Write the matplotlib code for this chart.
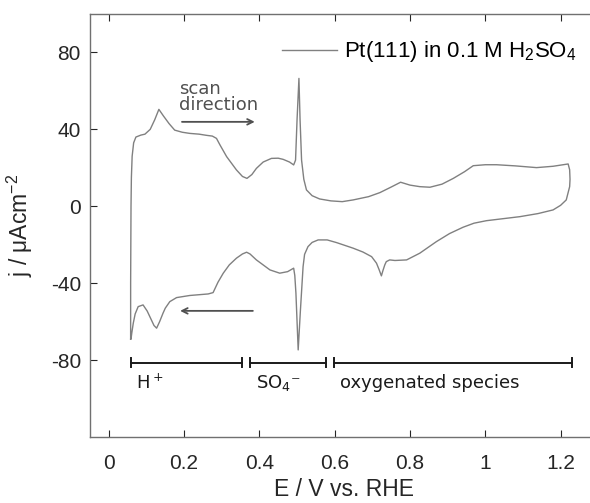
import matplotlib
matplotlib.use('Agg')
import matplotlib.pyplot as plt

plt.rcParams['font.family'] = ['Liberation Sans', 'DejaVu Sans']
plt.rcParams['mathtext.fontset'] = 'custom'
plt.rcParams['mathtext.rm'] = 'Liberation Sans'
plt.rcParams['mathtext.it'] = 'Liberation Sans'
plt.rcParams['axes.unicode_minus'] = False

# anodic sweep (E in V vs RHE, j in uA/cm2)
E_up = [0.058, 0.058, 0.059, 0.060, 0.062, 0.066, 0.072, 0.085, 0.096, 0.110,
        0.122, 0.133, 0.145, 0.160, 0.175, 0.195, 0.215, 0.240, 0.259, 0.275,
        0.286, 0.295, 0.313, 0.339, 0.355, 0.367, 0.380, 0.392, 0.410, 0.432,
        0.450, 0.463, 0.480, 0.491, 0.496, 0.500, 0.505, 0.508, 0.512, 0.518,
        0.525, 0.540, 0.560, 0.590, 0.620, 0.649, 0.690, 0.720, 0.750, 0.775,
        0.800, 0.826, 0.853, 0.885, 0.915, 0.945, 0.968, 1.000, 1.030, 1.080,
        1.136, 1.180, 1.220, 1.224]
j_up = [-69, -40, 0, 15, 26, 33, 36, 37, 37.5, 40,
        45, 50.4, 47, 43, 39.6, 38.5, 37.9, 37.5, 36.9, 36.5,
        35.3, 32, 25.8, 18.9, 15.5, 14.5, 16.5, 19.7, 23, 24.9,
        25, 24.4, 23, 21.5, 24, 45, 66.5, 45, 24, 14,
        8.5, 5.5, 3.8, 2.8, 2.4, 3.3, 5, 7.1, 10, 12.5,
        11, 10.2, 9.9, 11.5, 14.5, 18, 21.1, 21.6, 21.6, 21,
        20.1, 20.8, 22.0, 19]

# cathodic sweep
E_down = [1.225, 1.224, 1.215, 1.200, 1.180, 1.140, 1.092, 1.050, 1.003, 0.970,
          0.941, 0.905, 0.870, 0.826, 0.791, 0.760, 0.746, 0.737, 0.733, 0.728,
          0.724, 0.718, 0.711, 0.698, 0.675, 0.649, 0.605, 0.580, 0.556, 0.540,
          0.529, 0.520, 0.516, 0.509, 0.503, 0.497, 0.494, 0.491, 0.475, 0.454,
          0.428, 0.410, 0.392, 0.375, 0.366, 0.355, 0.339, 0.320, 0.304, 0.290,
          0.277, 0.264, 0.240, 0.215, 0.180, 0.162, 0.150, 0.144, 0.135, 0.127,
          0.120, 0.113, 0.102, 0.091, 0.078, 0.070, 0.065, 0.061, 0.059, 0.058]
j_down = [14, 10.2, 3.3, 0.5, -1.9, -3.8, -5.4, -6.4, -7.5, -8.8,
          -10.9, -14.2, -18.4, -24.4, -27.9, -28.2, -27.9, -28.8, -30.5, -33.5,
          -36.2, -33, -29.6, -26.2, -23.8, -21.8, -18.9, -17.5, -17.5, -18.8,
          -21, -25, -31.4, -53.9, -74.7, -45.2, -36, -32.2, -34, -34.8,
          -33.1, -30.5, -27.9, -24.8, -23.9, -24.8, -27, -30.5, -34.8, -39.5,
          -44.9, -45.6, -46, -46.4, -47.5, -49.6, -53, -55.6, -60, -63.4,
          -62, -59.1, -54.5, -51.3, -52.2, -56, -60.8, -66, -69.1, -69]

# potential regions
regions = [(0.058, 0.355), (0.374, 0.578), (0.598, 1.229)]
region_labels = ['H$^+$', 'SO$_4$⁻', 'oxygenated species']
region_text_x = [0.072, 0.392, 0.615]

xticks = [0, 0.2, 0.4, 0.6, 0.8, 1.0, 1.2]
xtick_labels = ['0', '0.2', '0.4', '0.6', '0.8', '1', '1.2']
yticks = [-80, -40, 0, 40, 80]

fig = plt.figure(figsize=(5.9, 5.03), dpi=100)
ax = fig.add_axes([0.1525, 0.1312, 0.8615, 0.841])

ax.plot(E_up + E_down, j_up + j_down, color='#808080', lw=1.0,
        label='Pt(111) in 0.1 M H$_2$SO$_4$')

ax.set_xlim(-0.05, 1.3)
ax.set_ylim(-120, 100)
ax.set_xticks(xticks)
ax.set_xticklabels(xtick_labels)
ax.set_yticks(yticks)
ax.tick_params(direction='in', length=5, width=0.8, labelsize=15, colors='#262626',
               top=True, right=True)
ax.tick_params(axis='x', pad=12)
ax.tick_params(axis='y', pad=6.5)
for s in ax.spines.values():
    s.set_color('#707070')
    s.set_linewidth(1.0)

ax.set_xlabel('E / V vs. RHE', fontsize=16.5, color='#262626', labelpad=4)
ax.set_ylabel('j / μAcm$^{-2}$', fontsize=16.5, color='#262626', labelpad=11)

# scan direction arrows
ax.annotate('', xy=(0.395, 43.9), xytext=(0.187, 43.9),
            arrowprops=dict(arrowstyle='->', color='#505050', lw=1.3))
ax.annotate('', xy=(0.182, -54.4), xytext=(0.39, -54.4),
            arrowprops=dict(arrowstyle='->', color='#505050', lw=1.3))
ax.text(0.187, 48, 'scan\ndirection', family='DejaVu Sans', fontsize=13,
        color='#505050', va='bottom', ha='left', linespacing=0.85)

# region bars
for (a, b), lab, tx in zip(regions, region_labels, region_text_x):
    ax.plot([a, b], [-81.3, -81.3], color='#1a1a1a', lw=1.4)
    ax.plot([a, a], [-79, -83.6], color='#1a1a1a', lw=1.4)
    ax.plot([b, b], [-79, -83.6], color='#1a1a1a', lw=1.4)
    ax.text(tx, -92, lab, family='DejaVu Sans', math_fontfamily='dejavusans',
            fontsize=13, color='#1a1a1a', va='center', ha='left')

leg = ax.legend(loc='center right', bbox_to_anchor=(576 / 590, 1 - 52 / 503),
                bbox_transform=fig.transFigure, frameon=False, fontsize=16,
                handlelength=2.45, handletextpad=0.3, borderpad=0, borderaxespad=0)

fig.savefig('out.png', dpi=100)
